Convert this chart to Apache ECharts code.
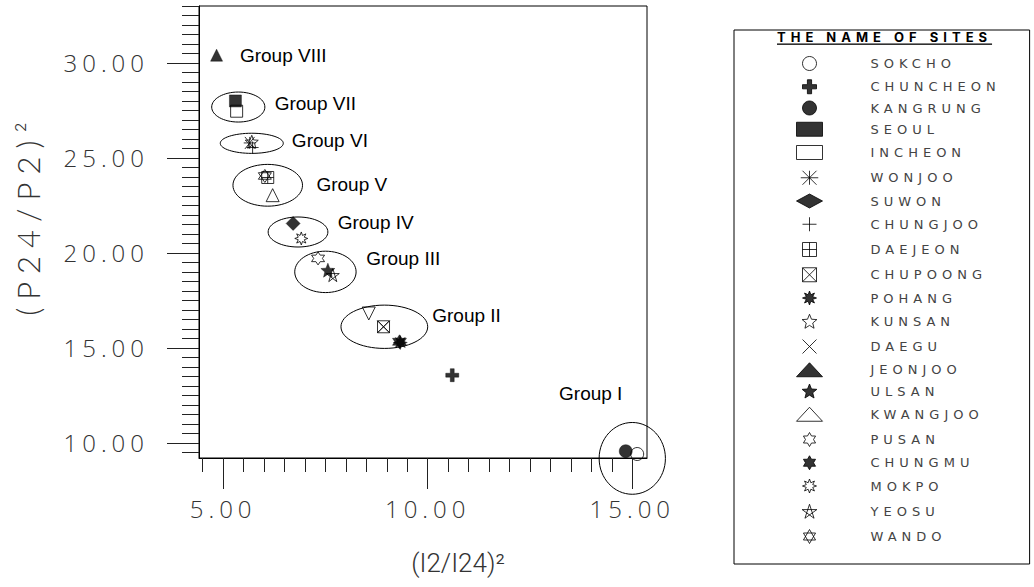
<!DOCTYPE html>
<html><head><meta charset="utf-8">
<script src="https://cdn.jsdelivr.net/npm/echarts@6/dist/echarts.min.js"></script>
<style>
html,body{margin:0;padding:0;background:#fff}
#c{width:1034px;height:587px}
text[style*="Open Sans"]{letter-spacing:5px}
text[style*="Lato"]{letter-spacing:8px}
text[style*="DejaVu"]{letter-spacing:5px}
text[style*="Inter"]{letter-spacing:5px;text-decoration:underline;text-decoration-thickness:2px}
</style></head><body><div id="c"></div><script>
// ---- data ----
const sites = ['SOKCHO','CHUNCHEON','KANGRUNG','SEOUL','INCHEON','WONJOO','SUWON','CHUNGJOO','DAEJEON','CHUPOONG','POHANG','KUNSAN','DAEGU','JEONJOO','ULSAN','KWANGJOO','PUSAN','CHUNGMU','MOKPO','YEOSU','WANDO'];
const siteX = [15.12, 10.60, 14.84, 5.30, 5.33, 5.65, 6.71, 5.72, 6.09, 8.92, 9.33, 5.70, 8.92, 4.84, 7.56, 6.21, 7.32, 9.31, 6.91, 7.68, 6.02];
const siteY = [9.41, 13.56, 9.56, 28.00, 27.46, 25.79, 21.55, 25.55, 23.97, 16.11, 15.28, 25.85, 16.11, 30.41, 19.09, 23.04, 19.71, 15.32, 20.76, 18.83, 24.05];
// extra inverted open triangle seen in Group II
const extraTriangle = [8.56, 16.81];

const groupNames = ['Group I','Group II','Group III','Group IV','Group V','Group VI','Group VII','Group VIII'];
const groupCX = [15.00, 8.94, 7.50, 6.83, 6.09, 5.70, 5.37, 4.84];
const groupCY = [9.18, 16.11, 19.00, 21.10, 23.56, 25.77, 27.68, 30.41];
const groupRX = [0.81, 1.06, 0.75, 0.73, 0.85, 0.77, 0.65, 0];
const groupRY = [1.89, 1.14, 1.09, 0.79, 1.10, 0.53, 0.79, 0];
const groupLabelX = [13.21, 10.11, 8.50, 7.80, 7.28, 6.68, 6.26, 5.41];
const groupLabelY = [12.62, 16.72, 19.72, 21.62, 23.61, 25.93, 27.88, 30.41];

const xMinorTicks = [4.5,5,5.5,6,6.5,7,7.5,8,8.5,9,9.5,10,10.5,11,11.5,12,12.5,13,13.5,14,14.5,15];
const xMajorTicks = [5,10,15];
const yMinorTicks = [9.5,10,10.5,11,11.5,12,12.5,13,13.5,14,14.5,15,15.5,16,16.5,17,17.5,18,18.5,19,19.5,20,20.5,21,21.5,22,22.5,23,23.5,24,24.5,25,25.5,26,26.5,27,27.5,28,28.5,29,29.5,30,30.5,31,31.5,32,32.5,33];
const yMajorTicks = [10,15,20,25,30];

// ---- symbol styles ----
const P = {
  boldPlus: 'path://M3.5,0H6.5V3.5H10V6.5H6.5V10H3.5V6.5H0V3.5H3.5Z',
  asterisk: 'path://M0,5H10M5,1V9M1,1L9,9M9,1L1,9',
  thinPlus: 'path://M0,5H10M5,0V10',
  grid: 'path://M0,0H10V10H0ZM5,0V10M0,5H10',
  xbox: 'path://M0,0H10V10H0ZM0,0L10,10M10,0L0,10',
  star8: 'path://M5,0L5.96,2.69L8.54,1.46L7.31,4.04L10,5L7.31,5.96L8.54,8.54L5.96,7.31L5,10L4.04,7.31L1.46,8.54L2.69,5.96L0,5L2.69,4.04L1.46,1.46L4.04,2.69Z',
  star5: 'path://M5,0L6.29,3.22L9.76,3.45L7.09,5.68L7.94,9.05L5,7.2L2.06,9.05L2.91,5.68L0.24,3.45L3.71,3.22Z',
  cross: 'path://M0,0L10,10M10,0L0,10',
  pentagram: 'path://M5,0L7.94,9.05L0.24,3.45H9.76L2.06,9.05Z',
  hex: 'path://M5,0L6.44,2.5L9.33,2.5L7.89,5L9.33,7.5L6.44,7.5L5,10L3.56,7.5L0.67,7.5L2.11,5L0.67,2.5L3.56,2.5Z',
  twoTri: 'path://M5,0L9.33,7.5H0.67ZM5,10L0.67,2.5H9.33Z'
};
const styleOf = {
  SOKCHO:   {symbol:'circle', filled:false, size:13},
  CHUNCHEON:{symbol:P.boldPlus, filled:true, size:13},
  KANGRUNG: {symbol:'circle', filled:true, size:13},
  SEOUL:    {symbol:'rect', filled:true, size:12},
  INCHEON:  {symbol:'rect', filled:false, size:12},
  WONJOO:   {symbol:P.asterisk, filled:false, size:12},
  SUWON:    {symbol:'diamond', filled:true, size:14},
  CHUNGJOO: {symbol:P.thinPlus, filled:false, size:12},
  DAEJEON:  {symbol:P.grid, filled:false, size:12},
  CHUPOONG: {symbol:P.xbox, filled:false, size:12},
  POHANG:   {symbol:P.star8, filled:true, size:14},
  KUNSAN:   {symbol:P.star5, filled:false, size:13},
  DAEGU:    {symbol:P.cross, filled:false, size:12},
  JEONJOO:  {symbol:'triangle', filled:true, size:12},
  ULSAN:    {symbol:P.star5, filled:true, size:14},
  KWANGJOO: {symbol:'triangle', filled:false, size:13},
  PUSAN:    {symbol:P.hex, filled:false, size:13},
  CHUNGMU:  {symbol:P.hex, filled:true, size:14},
  MOKPO:    {symbol:P.star8, filled:false, size:13},
  YEOSU:    {symbol:P.pentagram, filled:false, size:13},
  WANDO:    {symbol:P.twoTri, filled:false, size:13}
};

const series = sites.map((name, i) => {
  const st = styleOf[name];
  const data = [[siteX[i], siteY[i]]];
  if (name === 'KWANGJOO') data.push({value: extraTriangle, symbolRotate: 180});
  return {
    type: 'scatter', name, xAxisIndex: 0, yAxisIndex: 0,
    symbol: st.symbol, symbolSize: st.size,
    itemStyle: st.filled ? {color:'#000', borderColor:'#000', borderWidth:0.5}
                         : {color:'none', borderColor:'#000', borderWidth:1},
    emphasis: {disabled: true},
    data, z: 3
  };
});

series.push({
  type: 'custom', name: 'groups', coordinateSystem: 'cartesian2d', xAxisIndex: 0, yAxisIndex: 0,
  silent: true, z: 2, clip: false,
  data: groupNames.map((n, i) => [groupCX[i], groupCY[i], groupRX[i], groupRY[i], groupLabelX[i], groupLabelY[i]]),
  renderItem(params, api) {
    const i = params.dataIndex;
    const c = api.coord([api.value(0), api.value(1)]);
    const s = api.size([api.value(2), api.value(3)]);
    const l = api.coord([api.value(4), api.value(5)]);
    const children = [];
    if (api.value(2) > 0) {
      children.push({type:'ellipse', shape:{cx:c[0], cy:c[1], rx:s[0], ry:s[1]},
        style:{fill:'none', stroke:'#000', lineWidth:1}});
    }
    children.push({type:'text', x:l[0], y:l[1],
      style:{text:groupNames[i], fill:'#000', font:'19px "Liberation Sans"', align:'left', verticalAlign:'middle'}});
    return {type:'group', children};
  }
});

const X0 = 4.41, X1 = 15.36, Y0 = 9.2, Y1 = 33.0;
const lineCol = '#222';
const chart = echarts.init(document.getElementById('c'), null, {renderer:'svg'});
chart.setOption({
  animation: false,
  backgroundColor: '#fff',
  title: {text:'THE NAME OF SITES', left:777, top:30, padding:0,
    textStyle:{fontFamily:'Inter', fontWeight:'bold', fontSize:13, color:'#000'}},
  legend: {
    data: sites, orient:'vertical', left:734, top:30, height:530,
    itemWidth:26, itemHeight:14, itemGap:6.25,
    padding:[24, 74, 18, 60],
    borderColor:'#000', borderWidth:1,
    selectedMode:false,
    itemStyle:{borderWidth:1},
    textStyle:{fontFamily:'DejaVu Sans', fontSize:13, color:'#444', padding:[0,0,0,43]}
  },
  grid: {left:199, right:387, top:6, bottom:129, show:true, borderColor:'#000', borderWidth:1, containLabel:false},
  xAxis: [
    {type:'value', min:X0, max:X1, position:'bottom',
     axisLine:{show:true, lineStyle:{color:'#000', width:1}},
     axisTick:{show:true, customValues:xMinorTicks, length:14, lineStyle:{color:lineCol}},
     axisLabel:{show:false}, splitLine:{show:false}},
    {type:'value', min:X0, max:X1, position:'bottom',
     axisLine:{show:false},
     axisTick:{show:true, customValues:xMajorTicks, length:31, lineStyle:{color:lineCol}},
     axisLabel:{show:true, customValues:xMajorTicks, margin:38, formatter:v=>v.toFixed(2),
       fontFamily:'Open Sans', fontWeight:300, fontSize:24, color:'#333'},
     splitLine:{show:false},
     name:'(I2/I24)²', nameLocation:'middle', nameGap:92,
     nameTextStyle:{fontFamily:'Roboto', fontWeight:300, fontSize:26, color:'#333', padding:[0,0,0,70]}}
  ],
  yAxis: [
    {type:'value', min:Y0, max:Y1, position:'left',
     axisLine:{show:true, lineStyle:{color:'#000', width:1}},
     axisTick:{show:true, customValues:yMinorTicks, length:17, lineStyle:{color:lineCol}},
     axisLabel:{show:false}, splitLine:{show:false}},
    {type:'value', min:Y0, max:Y1, position:'left',
     axisLine:{show:false},
     axisTick:{show:true, customValues:yMajorTicks, length:32, lineStyle:{color:lineCol}},
     axisLabel:{show:true, customValues:yMajorTicks, margin:50, formatter:v=>v.toFixed(2),
       fontFamily:'Open Sans', fontWeight:300, fontSize:24, color:'#333'},
     splitLine:{show:false},
     name:'(P24/P2)²', nameLocation:'middle', nameRotate:90, nameGap:156,
     nameTextStyle:{fontFamily:'Lato', fontWeight:300, fontSize:31, color:'#333', padding:[0,0,0,34]}}
  ],
  series
});
</script></body></html>
